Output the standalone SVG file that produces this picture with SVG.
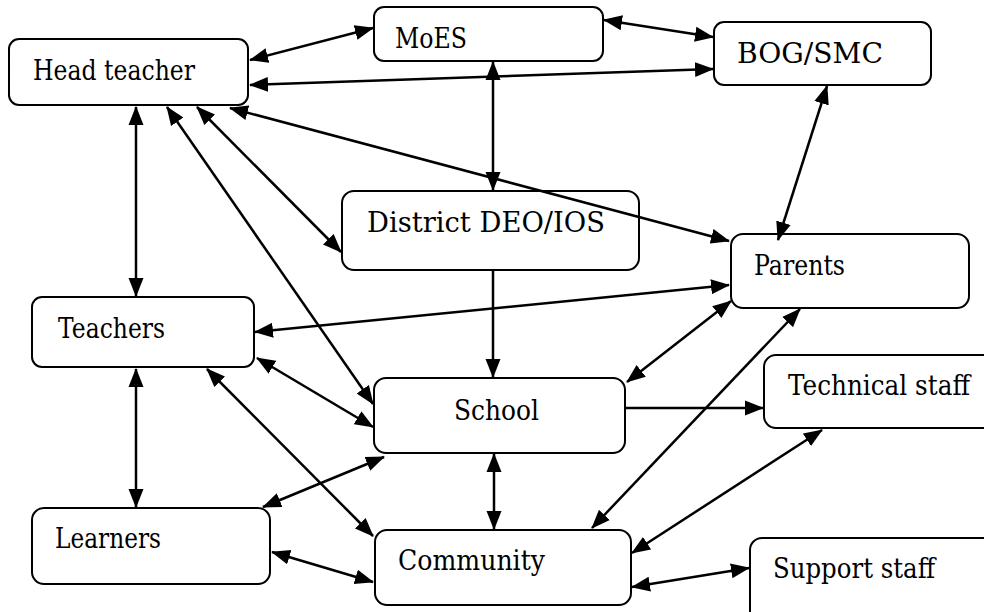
<svg xmlns="http://www.w3.org/2000/svg" width="984" height="612" viewBox="0 0 984 612">
<style>
.box{fill:#fff;stroke:#000;stroke-width:2}
text{font-family:'DejaVu Serif',serif;font-size:27px;fill:#000}
.c line{stroke:#000;stroke-width:2.5;fill:none}
.d{marker-start:url(#ah);marker-end:url(#ah)}
.s{marker-end:url(#ah)}
</style>
<defs>
<marker id="ah" markerUnits="userSpaceOnUse" markerWidth="19" markerHeight="16" refX="18" refY="8" orient="auto-start-reverse" viewBox="0 0 19 16">
<path d="M0,0.5 L19,8 L0,15.5 z" fill="#000"/>
</marker>
</defs>
<rect width="984" height="612" fill="#fff"/>
<g id="head-teacher"><rect class="box" x="9" y="39" width="239" height="66" rx="10"/><text x="33" y="80" textLength="162" lengthAdjust="spacingAndGlyphs">Head teacher</text></g>
<g id="moes"><rect class="box" x="374" y="7" width="229" height="54" rx="10"/><text x="395" y="48" textLength="72" lengthAdjust="spacingAndGlyphs">MoES</text></g>
<g id="bog-smc"><rect class="box" x="714" y="22" width="217" height="63" rx="10"/><text x="737" y="63" textLength="146" lengthAdjust="spacingAndGlyphs">BOG/SMC</text></g>
<g id="district"><rect class="box" x="342" y="191" width="297" height="79" rx="12"/><text x="367" y="232" textLength="238" lengthAdjust="spacingAndGlyphs">District DEO/IOS</text></g>
<g id="parents"><rect class="box" x="731" y="234" width="238" height="74" rx="12"/><text x="754" y="275" textLength="91" lengthAdjust="spacingAndGlyphs">Parents</text></g>
<g id="teachers"><rect class="box" x="32" y="297" width="222" height="70" rx="10"/><text x="58" y="338" textLength="107" lengthAdjust="spacingAndGlyphs">Teachers</text></g>
<g id="school"><rect class="box" x="374" y="378" width="251" height="75" rx="12"/><text x="454" y="420" textLength="85" lengthAdjust="spacingAndGlyphs">School</text></g>
<g id="technical-staff"><rect class="box" x="764" y="355" width="240" height="73" rx="12"/><text x="788" y="395" textLength="182" lengthAdjust="spacingAndGlyphs">Technical staff</text></g>
<g id="learners"><rect class="box" x="32" y="508" width="238" height="76" rx="12"/><text x="55" y="548" textLength="106" lengthAdjust="spacingAndGlyphs">Learners</text></g>
<g id="community"><rect class="box" x="375" y="530" width="256" height="75" rx="12"/><text x="398" y="570" textLength="147" lengthAdjust="spacingAndGlyphs">Community</text></g>
<g id="support-staff"><rect class="box" x="750" y="538" width="250" height="90" rx="12"/><text x="773" y="578" textLength="162" lengthAdjust="spacingAndGlyphs">Support staff</text></g>
<g class="c" id="connectors">
<line class="d" x1="250" y1="60" x2="373" y2="28"/>
<line class="d" x1="604" y1="20" x2="713" y2="37"/>
<line class="d" x1="250" y1="85" x2="713" y2="69"/>
<line class="d" x1="493" y1="62" x2="493" y2="190"/>
<line class="d" x1="136" y1="107" x2="136" y2="296"/>
<line class="d" x1="167" y1="107" x2="373" y2="404"/>
<line class="d" x1="197" y1="107" x2="341" y2="252"/>
<line class="d" x1="230" y1="108" x2="729" y2="241"/>
<line class="d" x1="827" y1="86" x2="778" y2="240"/>
<line class="s" x1="493" y1="271" x2="493" y2="377"/>
<line class="d" x1="255" y1="332" x2="729" y2="285"/>
<line class="d" x1="627" y1="382" x2="731" y2="301"/>
<line class="d" x1="800" y1="309" x2="592" y2="528"/>
<line class="s" x1="626" y1="408" x2="763" y2="408"/>
<line class="d" x1="257" y1="358" x2="373" y2="427"/>
<line class="d" x1="207" y1="369" x2="373" y2="536"/>
<line class="d" x1="136" y1="369" x2="136" y2="507"/>
<line class="d" x1="263" y1="507" x2="384" y2="457"/>
<line class="d" x1="494" y1="454" x2="494" y2="529"/>
<line class="d" x1="272" y1="552" x2="373" y2="582"/>
<line class="d" x1="822" y1="430" x2="632" y2="553"/>
<line class="d" x1="632" y1="587" x2="749" y2="568"/>
</g>
</svg>
